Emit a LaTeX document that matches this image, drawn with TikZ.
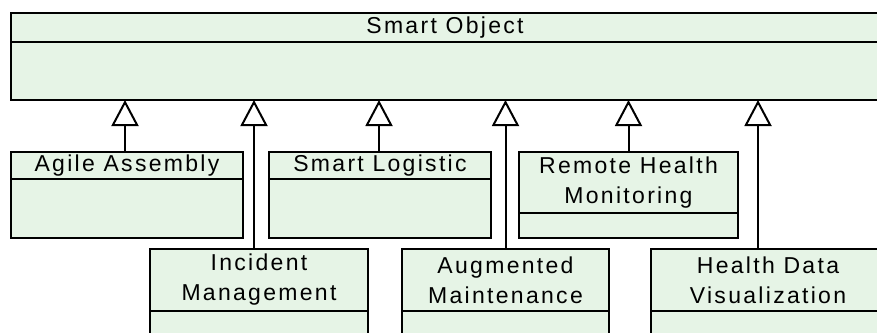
\documentclass[tikz,border=0pt]{standalone}
\usepackage{fontspec}
\newfontfamily\umlfont[LetterSpace=10]{Liberation Sans}
\usetikzlibrary{arrows.meta}
\definecolor{classfill}{HTML}{E6F4E6}
\begin{document}
\begin{tikzpicture}[x=1pt,y=-1pt,
  hdr/.style={draw=black, line width=2pt, fill=classfill, inner sep=0pt, outer sep=0pt, anchor=north west, align=center, font=\umlfont\fontsize{23}{30}\selectfont},
  bdy/.style={draw=black, line width=2pt, fill=classfill, inner sep=0pt, outer sep=0pt, anchor=north west},
  gen/.style={line width=2pt, -{Triangle[open, length=26pt, width=27pt, fill=white]}}]
\useasboundingbox (0,0) rectangle (877,332);
\fill[white] (0,0) rectangle (877,332);
\clip (0,0) rectangle (877,332);
% parent
\node[hdr, minimum width=868pt, minimum height=29pt] (soh) at (11,13) {Smart Object};
\node[bdy, minimum width=868pt, minimum height=58pt] (sob) at (soh.south west) {};
% upper row
\node[hdr, minimum width=232pt, minimum height=27pt] (agh) at (11,152) {Agile Assembly};
\node[bdy, minimum width=232pt, minimum height=59pt] (agb) at (agh.south west) {};
\node[hdr, minimum width=222pt, minimum height=27pt] (slh) at (269,152) {Smart Logistic};
\node[bdy, minimum width=222pt, minimum height=59pt] (slb) at (slh.south west) {};
\node[hdr, minimum width=219pt, minimum height=61pt] (rhh) at (519,152) {Remote Health\\Monitoring};
\node[bdy, minimum width=219pt, minimum height=25pt] (rhb) at (rhh.south west) {};
% lower row
\node[hdr, minimum width=218pt, minimum height=62pt] (imh) at (150,249) {Incident\\Management};
\node[bdy, minimum width=218pt, minimum height=50pt] (imb) at (imh.south west) {};
\node[hdr, minimum width=207pt, minimum height=62pt] (amh) at (402,249) {Augmented\\Maintenance};
\node[bdy, minimum width=207pt, minimum height=50pt] (amb) at (amh.south west) {};
\node[hdr, minimum width=234pt, minimum height=62pt] (hdh) at (651,249) {Health Data\\Visualization};
\node[bdy, minimum width=234pt, minimum height=50pt] (hdb) at (hdh.south west) {};
% generalizations
\draw[gen] ([xshift=-2pt]agh.north) -- ([xshift=-2pt]agh.north |- sob.south);
\draw[gen] ([xshift=-5pt]imh.north) -- ([xshift=-5pt]imh.north |- sob.south);
\draw[gen] ([xshift=-1pt]slh.north) -- ([xshift=-1pt]slh.north |- sob.south);
\draw[gen] (amh.north) -- (amh.north |- sob.south);
\draw[gen] (rhh.north) -- (rhh.north |- sob.south);
\draw[gen] ([xshift=-10pt]hdh.north) -- ([xshift=-10pt]hdh.north |- sob.south);
\end{tikzpicture}
\end{document}
